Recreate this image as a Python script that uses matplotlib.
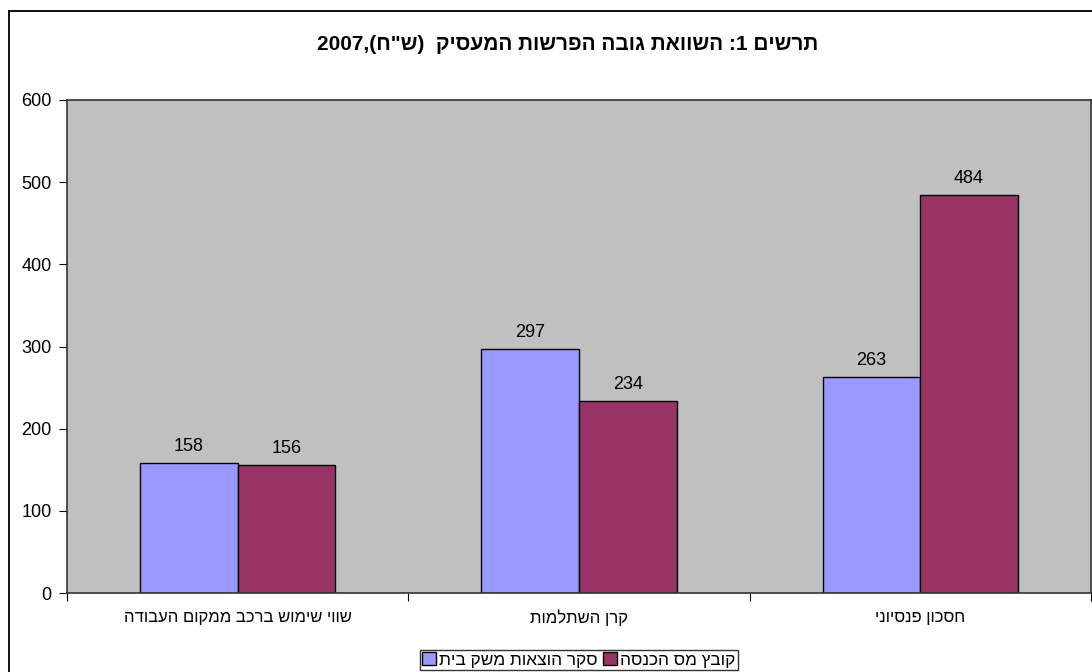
import re
import matplotlib
matplotlib.use("Agg")
import matplotlib.pyplot as plt
from matplotlib.patches import Patch
from matplotlib.lines import Line2D

plt.rcParams['font.family'] = ['Liberation Sans', 'DejaVu Sans']

title = 'תרשים 1: השוואת גובה הפרשות המעסיק  (ש"ח),2007'
categories = ['שווי שימוש ברכב ממקום העבודה', 'קרן השתלמות', 'חסכון פנסיוני']
series_names = ['סקר הוצאות משק בית', 'קובץ מס הכנסה']
survey = [158, 297, 263]
tax_file = [156, 234, 484]
colors = ['#9999FF', '#993366']
yticks = [0, 100, 200, 300, 400, 500, 600]


def visual(s):
    # matplotlib draws left to right, so flip Hebrew text into display order
    out = s[::-1]
    out = re.sub(r'\d+', lambda m: m.group(0)[::-1], out)
    return out.translate(str.maketrans('()', ')('))


W, H = 1092, 672
fig = plt.figure(figsize=(W / 100, H / 100), dpi=100)

# outer chart border (only top and left edges fall inside the image)
fig.add_artist(Line2D([8.5 / W, 8.5 / W], [0, 1 - 10.5 / H], color='black', lw=1.3))
fig.add_artist(Line2D([8.5 / W, 1], [1 - 10.5 / H, 1 - 10.5 / H], color='black', lw=1.3))

x0, x1, y0, y1 = 67, 1091, 100, 593
ax = fig.add_axes([x0 / W, 1 - y1 / H, (x1 - x0) / W, (y1 - y0) / H])
ax.set_facecolor('#C0C0C0')
for sp in ax.spines.values():
    sp.set_color('#333333')
    sp.set_linewidth(1.2)

w = 1 / 3.5
xs = range(len(categories))
for k, (vals, c) in enumerate(zip([survey, tax_file], colors)):
    pos = [i + (k - 0.5) * w for i in xs]
    bars = ax.bar(pos, vals, width=w, color=c, edgecolor='black', linewidth=1.0)
    for b, v in zip(bars, vals):
        ax.text(b.get_x() + b.get_width() / 2, v + 10, str(v),
                ha='center', va='bottom', fontsize=13)

ax.set_xlim(-0.5, 2.5)
ax.set_ylim(0, 600)
ax.set_yticks(yticks)
ax.tick_params(axis='y', labelsize=13, length=6, direction='out', pad=5)
ax.set_xticks([-0.5, 0.5, 1.5, 2.5])
ax.set_xticklabels([])
ax.set_xticks(list(xs), [visual(c) for c in categories], minor=True)
ax.tick_params(axis='x', which='major', length=6, direction='out')
ax.tick_params(axis='x', which='minor', length=0, labelsize=12, pad=12)

fig.text((318 + 818) / 2 / W, 1 - 45 / H, visual(title), ha='center', va='center',
         fontsize=15, fontweight='bold')

handles = [Patch(facecolor=c, edgecolor='black', linewidth=1.0) for c in colors]
leg = fig.legend(handles, [visual(n) for n in series_names], ncol=2,
                 loc='center', bbox_to_anchor=(579 / W, 1 - 660 / H),
                 fontsize=12.4, frameon=True, fancybox=False, edgecolor='black',
                 handlelength=0.8, handleheight=0.8, handletextpad=0.2,
                 columnspacing=0.3, borderpad=0.15, borderaxespad=0)
leg.get_frame().set_linewidth(1.0)

fig.savefig('out.png', dpi=100, facecolor='white')
